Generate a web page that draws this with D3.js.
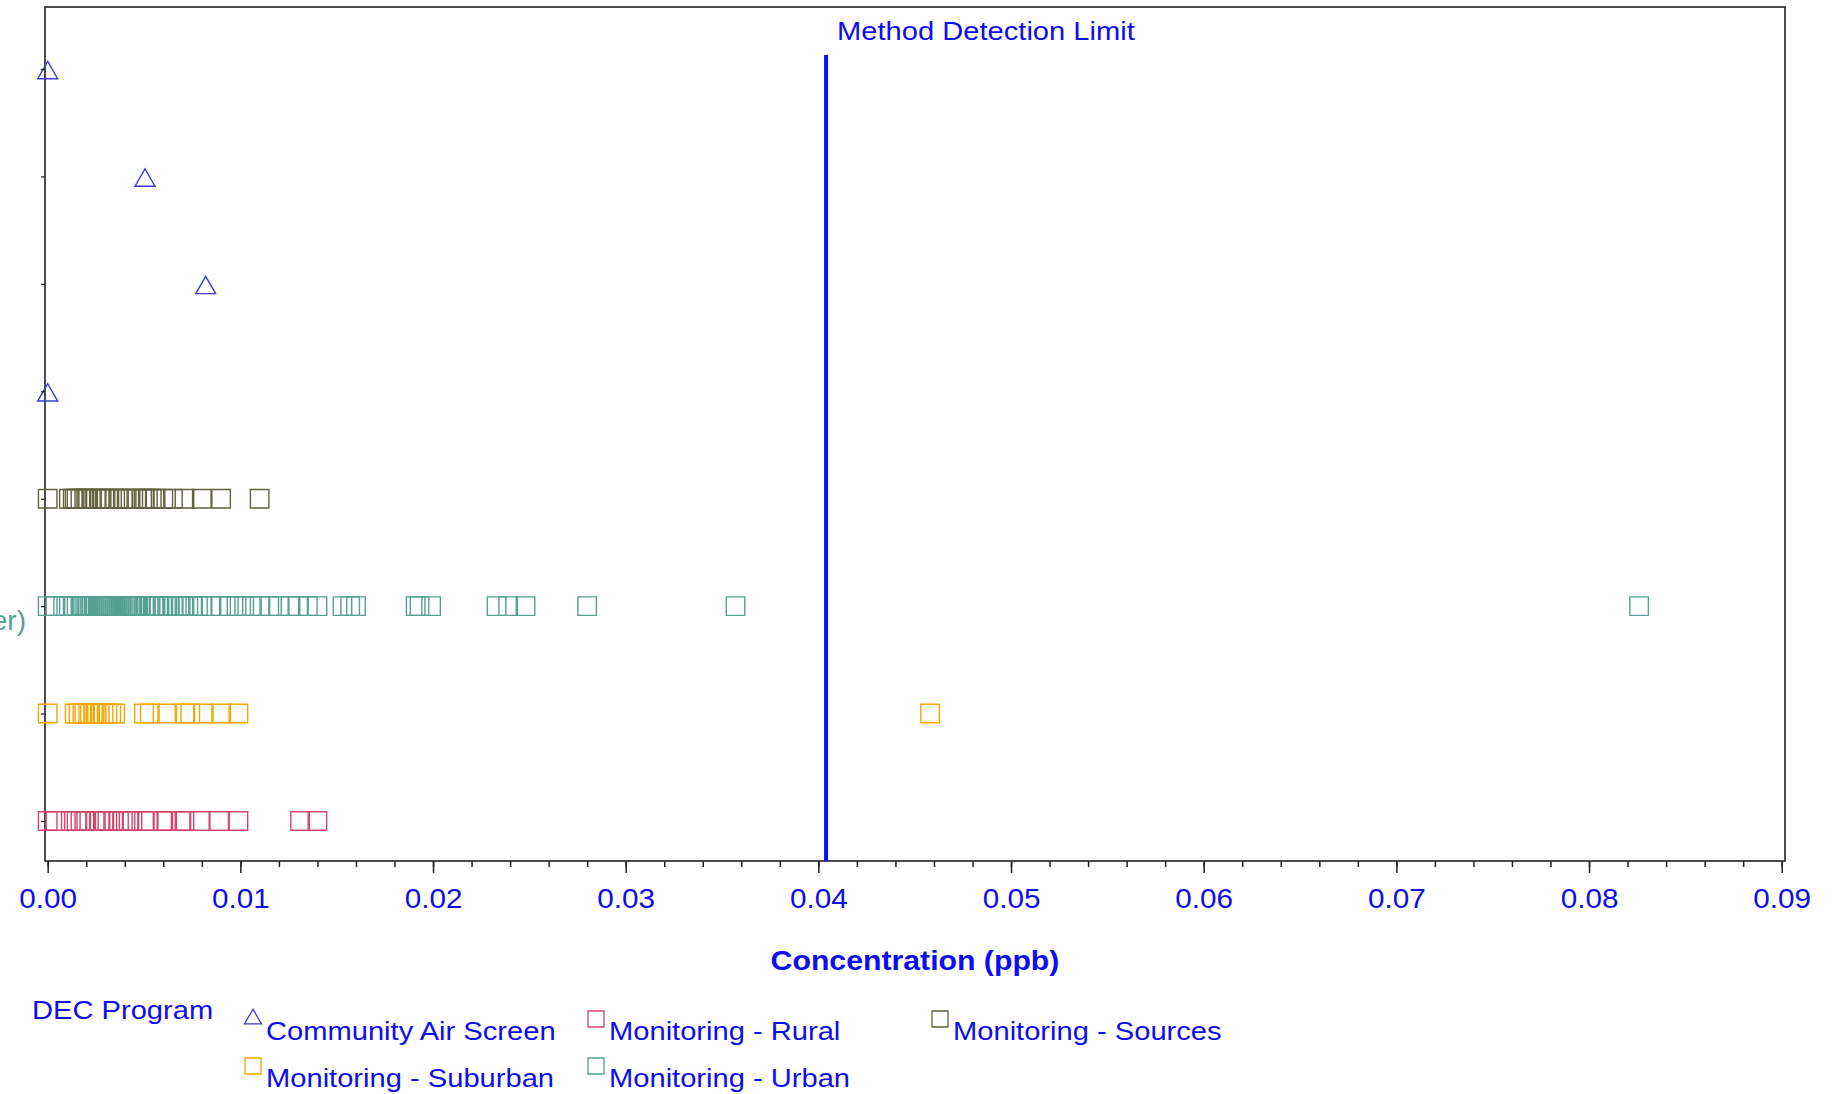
<!DOCTYPE html>
<html><head><meta charset="utf-8">
<script src="https://cdn.jsdelivr.net/npm/d3@7"></script>
<style>
body{margin:0;background:#fff}
svg{display:block}
text{font-family:"Liberation Sans",Arial,sans-serif}
</style>
</head><body><svg id="c" width="1837" height="1094"></svg>
<script>
// ---------------- data ----------------
const rowPrograms = ["Community Air Screen","Community Air Screen","Community Air Screen","Community Air Screen",
  "Monitoring - Sources","Monitoring - Urban","Monitoring - Suburban","Monitoring - Rural"];
const rowIds = ["r1","r2","r3","r4","r5","r6","r7","r8"];
const rowLabels = ["","","","","","er)","",""];   // only visible fragment of the clipped site labels

const screenRow1 = [0];
const screenRow2 = [0.00505];
const screenRow3 = [0.0082];
const screenRow4 = [0];
const sourcesValues = [0,0.0011,0.0013,0.0014,0.0015,0.0017,0.0019,0.0020,0.0021,0.0023,0.0025,0.0027,0.0028,
  0.0030,0.0032,0.0035,0.0037,0.0039,0.0041,0.0043,0.0046,0.0049,0.0050,0.0052,0.0054,0.0056,0.0060,0.0065,
  0.0071,0.0080,0.0090,0.0110];
const urbanValues = [0,0.0004,0.0008,0.0011,0.0013,0.0015,0.0017,0.0018,0.0019,0.0020,0.0021,0.0022,0.0023,
  0.0024,0.0025,0.0026,0.0027,0.0028,0.0029,0.0030,0.0031,0.0032,0.0033,0.0034,0.0035,0.0036,0.0037,0.0038,
  0.0039,0.0040,0.0041,0.0042,0.0043,0.0044,0.0045,0.0046,0.0047,0.0048,0.0050,0.0051,0.0053,0.0055,0.0056,
  0.0058,0.0060,0.0062,0.0063,0.0065,0.0067,0.0069,0.0071,0.0073,0.0075,0.0078,0.0080,0.0085,0.0090,0.0094,
  0.0098,0.0102,0.0106,0.0110,0.0115,0.0120,0.0126,0.0130,0.0135,0.0140,0.0153,0.0157,0.0160,0.0191,0.0193,
  0.0199,0.0233,0.0239,0.0248,0.0280,0.0357,0.0826];
const suburbanValues = [0,0.0014,0.0016,0.0018,0.0019,0.0021,0.0022,0.0024,0.0025,0.0027,0.0029,0.0031,0.0033,
  0.0035,0.0050,0.0053,0.0062,0.0071,0.0074,0.0081,0.0090,0.0099,0.0458];
const ruralValues = [0,0.0004,0.0012,0.0015,0.0017,0.0019,0.0020,0.0025,0.0027,0.0029,0.0031,0.0034,0.0037,
  0.0039,0.0042,0.0044,0.0050,0.0052,0.0060,0.0062,0.0069,0.0071,0.0079,0.0089,0.0099,0.0131,0.0140];

const xTickValues = [0,0.01,0.02,0.03,0.04,0.05,0.06,0.07,0.08,0.09];
const xMinorValues = d3.range(0, 0.0901, 0.002);
const detectionLimit = 0.0404;
const legendPrograms = ["Community Air Screen","Monitoring - Rural","Monitoring - Sources","Monitoring - Suburban","Monitoring - Urban"];

// ---------------- styles ----------------
const programColor = {
  "Community Air Screen":"#3d3dc8",
  "Monitoring - Rural":"#d4466c",
  "Monitoring - Sources":"#62623e",
  "Monitoring - Suburban":"#f4a600",
  "Monitoring - Urban":"#55a093"
};
const programShape = {
  "Community Air Screen":"triangle",
  "Monitoring - Rural":"square","Monitoring - Sources":"square",
  "Monitoring - Suburban":"square","Monitoring - Urban":"square"
};
const blue = "#0c0cf5";

const rowValues = [screenRow1,screenRow2,screenRow3,screenRow4,sourcesValues,urbanValues,suburbanValues,ruralValues];

const svg = d3.select("#c");
const frame = {left:45, right:1785, top:7, bottom:861};

const x = d3.scaleLinear().domain([0,0.09]).range([47.7,1781.7]);
const y = d3.scalePoint().domain(rowIds).range([69,821]);

const sq = d3.symbol().type(d3.symbolSquare).size(18.5*18.5);
const tri = d3.symbol().type(d3.symbolTriangle).size(20*20*Math.sqrt(3)/4);
const pathFor = s => s==="triangle" ? tri() : sq();
const shapeDy = s => s==="triangle" ? 4 : 0;

// frame
svg.append("rect").attr("x",frame.left).attr("y",frame.top)
  .attr("width",frame.right-frame.left).attr("height",frame.bottom-frame.top)
  .attr("fill","none").attr("stroke","#222").attr("stroke-width",1.6);

// points
rowIds.forEach((id,i)=>{
  const prog = rowPrograms[i];
  const shp = programShape[prog];
  svg.append("g").selectAll("path").data(rowValues[i]).join("path")
    .attr("d", pathFor(shp))
    .attr("transform", d=>`translate(${x(d)},${y(id)+shapeDy(shp)})`)
    .attr("fill","none").attr("stroke",programColor[prog]).attr("stroke-width",1.4);
});

// y axis ticks
const yAx = svg.append("g").attr("transform",`translate(${frame.left},0)`)
  .call(d3.axisLeft(y).tickSize(4).tickFormat((d,i)=>rowLabels[i]));
yAx.select(".domain").remove();
yAx.selectAll("line").attr("stroke","#222").attr("stroke-width",1.3);
yAx.selectAll("text").remove();
// visible fragment of clipped row label
rowIds.forEach((id,i)=>{
  if(!rowLabels[i]) return;
  svg.append("text").attr("x",26).attr("y",y(id)+24)
    .attr("text-anchor","end").attr("font-size",28).attr("fill",programColor[rowPrograms[i]])
    .text(rowLabels[i]);
});

// x axis
const xMinor = svg.append("g").attr("transform",`translate(0,${frame.bottom})`)
  .call(d3.axisBottom(x).tickValues(xMinorValues).tickSize(6).tickFormat(""));
xMinor.select(".domain").remove();
xMinor.selectAll("line").attr("stroke","#222").attr("stroke-width",1.5);
const xAx = svg.append("g").attr("transform",`translate(0,${frame.bottom})`)
  .call(d3.axisBottom(x).tickValues(xTickValues).tickSize(12).tickPadding(0).tickFormat(d3.format(".2f")));
xAx.select(".domain").remove();
xAx.selectAll("line").attr("stroke","#222").attr("stroke-width",1.5);
xAx.selectAll("text").attr("font-size",28).attr("fill",blue).attr("dy",null)
  .attr("y",47).attr("transform","scale(1.06,1)").attr("font-family",null);

// axis title
svg.append("g").attr("transform",`translate(${(frame.left+frame.right)/2},970) scale(1.08,1)`)
  .append("text").attr("text-anchor","middle").attr("font-size",28).attr("font-weight","bold")
  .attr("fill",blue).text("Concentration  (ppb)");

// detection limit
svg.append("line").attr("x1",x(detectionLimit)).attr("x2",x(detectionLimit))
  .attr("y1",55).attr("y2",frame.bottom).attr("stroke",blue).attr("stroke-width",4);
svg.append("g").attr("transform",`translate(${x(detectionLimit)+11},40) scale(1.12,1)`)
  .append("text").attr("font-size",26).attr("fill",blue).text("Method Detection Limit");

// legend
svg.append("g").attr("transform","translate(32,1019) scale(1.12,1)")
  .append("text").attr("font-size",26).attr("fill",blue).text("DEC Program");
const legX = [253,596,940], legY = [1019,1066];
legendPrograms.forEach((p,i)=>{
  const cx = legX[i%3], cy = legY[Math.floor(i/3)];
  const g = svg.append("g").attr("transform",`translate(${cx},${cy})`);
  g.append("path").attr("d", programShape[p]==="triangle"
      ? d3.symbol().type(d3.symbolTriangle).size(17*17*Math.sqrt(3)/4)()
      : d3.symbol().type(d3.symbolSquare).size(16*16)())
    .attr("fill","none").attr("stroke",programColor[p]).attr("stroke-width",1.3);
  g.append("g").attr("transform","translate(13,21) scale(1.12,1)")
    .append("text").attr("font-size",26).attr("fill",blue).text(p);
});
</script>
</body></html>
